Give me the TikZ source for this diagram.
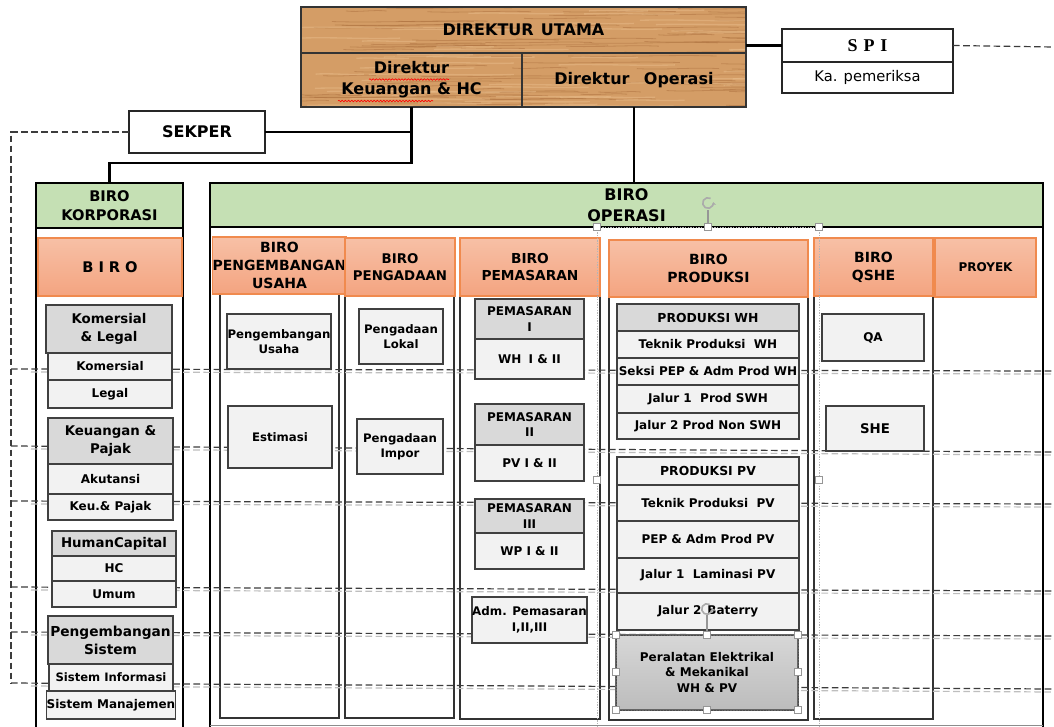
\documentclass[tikz,border=0pt]{standalone}
\usepackage{fontspec}
\setmainfont{DejaVu Sans}
\newfontfamily\spifont{Liberation Serif}
\usetikzlibrary{calc,arrows.meta,decorations.pathmorphing}

\definecolor{woodbase}{RGB}{212,157,102}
\definecolor{woodgrain}{RGB}{168,108,58}
\definecolor{woodlight}{RGB}{232,188,138}
\definecolor{greenhdr}{RGB}{197,224,180}
\definecolor{orangetop}{RGB}{247,192,166}
\definecolor{orangebot}{RGB}{244,164,128}
\definecolor{orangeedge}{RGB}{240,138,78}
\definecolor{boxfill}{RGB}{242,242,242}
\definecolor{headfill}{RGB}{217,217,217}
\definecolor{boxedge}{RGB}{64,64,64}
\definecolor{dashdark}{RGB}{60,60,60}
\definecolor{dashlight}{RGB}{190,190,190}
\definecolor{handlegray}{RGB}{150,150,150}
\definecolor{peratop}{RGB}{215,215,215}
\definecolor{perabot}{RGB}{188,188,188}

% font size with 1.3 line spacing
\newcommand\fz[1]{\fontsize{#1}{\dimexpr #1pt*13/10\relax}\selectfont}
% box from (x1,y1) to (x2,y2) in pixel units: name, x1, y1, x2, y2, style, font size, text
\newcommand\bx[8]{\node[#6, font=\bfseries\fz{#7}, minimum width={(#4-(#2))*0.75pt}, minimum height={(#5-(#3))*0.75pt}] (#1) at ({(#2+#4)/2},{(#3+#5)/2}) {#8};}

\tikzset{
  every node/.style={inner sep=0pt, outer sep=0pt, align=center},
  outerframe/.style={draw=black, line width=2.2pt},
  colframe/.style={draw=black!80, line width=1pt},
  greenhead/.style={draw=black, line width=2.2pt, fill=greenhdr},
  orangehead/.style={draw=orangeedge, line width=1pt, top color=orangetop, bottom color=orangebot},
  sub/.style={draw=boxedge, line width=1.1pt, fill=boxfill},
  subhead/.style={draw=boxedge, line width=1.1pt, fill=headfill},
  dirbox/.style={draw=black!80, line width=1.4pt},
  plainbox/.style={draw=black!85, line width=1pt, fill=white},
  perastyle/.style={draw=black!60, line width=0.8pt, top color=peratop, bottom color=perabot},
  link/.style={draw=black, line width=2pt},
  guide/.style={draw=dashdark, line width=0.9pt, dash pattern=on 5pt off 2.6pt},
  guideshade/.style={draw=dashlight, line width=0.9pt, dash pattern=on 5pt off 2.6pt},
  handle/.style={draw=handlegray, fill=white, line width=0.5pt, minimum size=5pt},
  selline/.style={draw=handlegray!70, line width=0.5pt, dash pattern=on 1pt off 1pt},
  squiggle/.style={draw=red, line width=0.45pt, decorate, decoration={snake, amplitude=0.6pt, segment length=2.4pt}},
}

\begin{document}
\begin{tikzpicture}[x=0.75pt, y=-0.75pt]
\useasboundingbox (0,0) rectangle (1054,726);
\fill[white] (0,0) rectangle (1054,726);

% ---- wooden board of the directors
\begin{scope}
  \clip (301,7) rectangle (746,107);
  \fill[woodbase] (301,7) rectangle (746,107);
  \pgfmathsetseed{12}
  \foreach \k in {1,...,90}{
    \pgfmathsetmacro\yy{7+100*rnd}
    \pgfmathsetmacro\xx{290+450*rnd}
    \pgfmathsetmacro\ll{30+130*rnd}
    \draw[woodgrain, line width=0.6pt, opacity=0.45]
      (\xx,\yy) .. controls ({\xx+\ll/3},{\yy+1.5}) and ({\xx+2*\ll/3},{\yy-1.5}) .. ({\xx+\ll},\yy);
  }
  \foreach \k in {1,...,50}{
    \pgfmathsetmacro\yy{7+100*rnd}
    \pgfmathsetmacro\xx{290+450*rnd}
    \pgfmathsetmacro\ll{40+120*rnd}
    \draw[woodlight, line width=1pt, opacity=0.5]
      (\xx,\yy) .. controls ({\xx+\ll/3},{\yy-1.2}) and ({\xx+2*\ll/3},{\yy+1.2}) .. ({\xx+\ll},\yy);
  }
\end{scope}

% ---- outer frames of the two bureaus and the columns
\bx{korp}{36}{183}{183}{740}{outerframe}{10}{}
\bx{opr}{210}{183}{1043}{740}{outerframe}{10}{}
\bx{colpu}{220}{237}{339}{718}{colframe}{10}{}
\bx{colpg}{345}{238}{454}{718}{colframe}{10}{}
\bx{colpm}{460}{238}{600}{719}{colframe}{10}{}
\bx{colpr}{609}{240}{808}{720}{colframe}{10}{}
\bx{colqs}{814}{238}{933}{719}{colframe}{10}{}
\draw[black!45, line width=0.6pt] (210,725) -- (1043,725);

% ---- dashed reporting lines
\coordinate (lft) at (11,132);
\coordinate (lfb) at (11,683);
\foreach \n/\a/\b in {1/369/371, 2/446/452, 3/501/504, 4/587/591, 5/632/636, 6/683/689}{
  \coordinate (g\n l) at (11,\a);
  \coordinate (g\n r) at (1054,\b);
  \draw[guideshade] ($(g\n l)+(20,3)$) -- ($(g\n r)+(0,3)$);
  \draw[guide] (g\n l) -- (g\n r);
}

% ---- bureau headers
\bx{korphead}{36}{183}{183}{228}{greenhead}{11}{BIRO\\KORPORASI}
\bx{oprhead}{210}{183}{1043}{227}{greenhead}{12}{BIRO\\OPERASI}
\bx{biro}{38}{238}{182}{296}{orangehead}{11}{B\,\,I\,\,R\,\,O}
\bx{hpu}{220}{237}{339}{294}{orangehead}{10.5}{BIRO\\PENGEMBANGAN\\USAHA}
\bx{hpg}{345}{238}{455}{296}{orangehead}{10}{BIRO\\PENGADAAN}
\bx{hpm}{460}{238}{600}{296}{orangehead}{10.3}{BIRO\\PEMASARAN}
\bx{hpr}{609}{240}{808}{297}{orangehead}{10.5}{BIRO\\PRODUKSI}
\bx{hqs}{814}{238}{933}{296}{orangehead}{10.5}{BIRO\\QSHE}
\bx{hpy}{935}{238}{1036}{297}{orangehead}{9}{PROYEK}

% ---- Biro Korporasi units
\bx{kl}{46}{305}{172}{353}{subhead}{10}{Komersial\\\& Legal}
\bx{kom}{48}{353}{172}{380}{sub}{9}{Komersial}
\bx{leg}{48}{380}{172}{408}{sub}{9}{Legal}
\bx{kp}{48}{418}{173}{464}{subhead}{10}{Keuangan \&\\Pajak}
\bx{aku}{48}{464}{173}{494}{sub}{9}{Akutansi}
\bx{keu}{48}{494}{173}{520}{sub}{9}{Keu.\& Pajak}
\bx{hcap}{52}{531}{176}{556}{subhead}{10}{HumanCapital}
\bx{hc}{52}{556}{176}{581}{sub}{9}{HC}
\bx{umum}{52}{581}{176}{607}{sub}{9}{Umum}
\bx{ps}{48}{616}{173}{664}{subhead}{10.3}{Pengembangan\\Sistem}
\bx{si}{49}{664}{173}{691}{sub}{8.7}{Sistem Informasi}
\bx{sm}{49}{691}{173}{719}{sub}{9}{Sistem Manajemen}

% ---- Pengembangan Usaha and Pengadaan
\bx{pu}{227}{314}{331}{369}{sub}{8.8}{Pengembangan\\Usaha}
\bx{est}{228}{406}{332}{468}{sub}{8.8}{Estimasi}
\bx{plok}{359}{309}{443}{364}{sub}{8.8}{Pengadaan\\Lokal}
\bx{pimp}{357}{419}{443}{474}{sub}{8.8}{Pengadaan\\Impor}

% ---- Pemasaran
\bx{pm1}{475}{299}{584}{339}{subhead}{9}{PEMASARAN\\I}
\bx{wh}{475}{339}{584}{379}{sub}{9}{WH\hspace{0.6em}I \& II}
\bx{pm2}{475}{404}{584}{445}{subhead}{9}{PEMASARAN\\II}
\bx{pv}{475}{445}{584}{481}{sub}{9}{PV I \& II}
\bx{pm3}{475}{499}{584}{533}{subhead}{9}{PEMASARAN\\III}
\bx{wp}{475}{533}{584}{569}{sub}{9}{WP I \& II}
\bx{adm}{475}{597}{584}{643}{sub}{8.9}{Adm. Pemasaran\\I,II,III}

% ---- Produksi
\bx{pwh}{617}{304}{799}{331}{subhead}{9.3}{PRODUKSI WH}
\bx{tpw}{617}{331}{799}{358}{sub}{9}{Teknik Produksi\hspace{0.7em}WH}
\bx{seksi}{617}{358}{799}{385}{sub}{9}{Seksi PEP \& Adm Prod WH}
\bx{j1w}{617}{385}{799}{413}{sub}{9}{Jalur 1\hspace{0.7em}Prod SWH}
\bx{j2w}{617}{413}{799}{439}{sub}{9}{Jalur 2 Prod Non SWH}
\bx{ppv}{617}{457}{799}{485}{sub}{9.3}{PRODUKSI PV}
\bx{tpp}{617}{485}{799}{521}{sub}{9}{Teknik Produksi\hspace{0.7em}PV}
\bx{pep}{617}{521}{799}{558}{sub}{9}{PEP \& Adm Prod PV}
\bx{j1p}{617}{558}{799}{593}{sub}{9}{\raisebox{3pt}{Jalur 1\hspace{0.7em}Laminasi PV}}
\bx{j2p}{617}{593}{799}{630}{sub}{9}{\raisebox{3pt}{Jalur 2\hspace{0.5em}Baterry}}
\bx{pera}{616}{635}{798}{710}{perastyle}{9}{Peralatan Elektrikal\\\& Mekanikal\\WH \& PV}

% ---- QSHE
\bx{qa}{822}{314}{924}{361}{sub}{9}{QA}
\bx{she}{826}{406}{924}{451}{sub}{10}{SHE}

% ---- directors, SPI and SEKPER
\bx{dirutama}{301}{7}{746}{53}{dirbox}{12}{DIREKTUR\hspace{0.45em}UTAMA}
\bx{dirkeu}{301}{53}{522}{107}{dirbox}{12}{Direktur\\Keuangan \& HC}
\bx{dirops}{522}{53}{746}{107}{dirbox}{12}{Direktur\hspace{0.9em}Operasi}
\draw[squiggle] (369,79.5) -- (449,79.5);
\draw[squiggle] (338,101) -- (433,101);
\bx{spitop}{782}{29}{953}{62}{plainbox}{13.5}{\raisebox{-5pt}{\spifont\bfseries S\,\,P\,\,I}}
\bx{spibot}{782}{62}{953}{93}{plainbox}{11}{\mdseries Ka. pemeriksa}
\bx{sekper}{129}{111}{265}{153}{plainbox}{12}{SEKPER}

% ---- solid lines of command
\draw[link] (dirkeu.south) -- ++(0,56) -| (korp.north);
\draw[link] (sekper.east) -- (sekper.east -| dirkeu.south);
\draw[link] (dirops.south) -- (dirops.south |- opr.north);
\draw[link] (spitop.west) -- (spitop.west -| dirutama.east);

% ---- dashed lines of supervision
\coordinate (spiend) at (1054,47);
\draw[guide] (spitop.east) -- (spiend);
\draw[guide] (sekper.west) -- (lft) -- (lfb);

% ---- selection guides and handles
\draw[selline] (597,227) -- (597,726);
\draw[selline] (819,227) -- (819,726);
\draw[selline] (597,227) -- (819,227);
\draw[black!70, line width=0.6pt, dash pattern=on 1.2pt off 1pt] (616,635) rectangle (798,710);
\draw[handlegray, line width=0.8pt] (708,210) -- (708,227);
\draw[handlegray, line width=0.8pt] (707,615) -- (707,635);
\draw[handlegray!80, line width=1.2pt, -{Stealth[length=2.5pt,width=3.5pt]}] (708,203) ++(60:4pt) arc[start angle=60, end angle=370, radius=4pt];
\draw[handlegray!80, line width=1.2pt, -{Stealth[length=2.5pt,width=3.5pt]}] (707,609) ++(60:4pt) arc[start angle=60, end angle=370, radius=4pt];
\foreach \n/\hx/\hy in {a/597/227, b/708/227, c/819/227, d/597/480, e/819/480,
    f/616/635, g/707/635, h/798/635, i/616/672, j/798/672, k/616/710, l/707/710, m/798/710}{
  \node[handle] (hd\n) at (\hx,\hy) {};
}
\end{tikzpicture}
\end{document}
